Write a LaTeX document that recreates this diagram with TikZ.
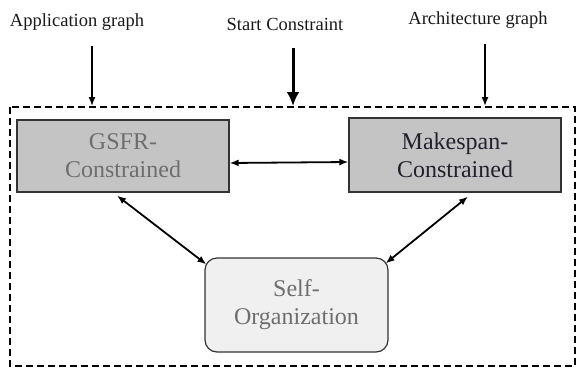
\documentclass[tikz,border=0pt]{standalone}
\usepackage{fontspec}
\setmainfont{Liberation Serif}
\usepackage{tikz}
\usetikzlibrary{arrows.meta}
\definecolor{boxgray}{HTML}{C4C4C4}
\definecolor{softgray}{HTML}{F0F0F0}
\definecolor{textgray}{HTML}{6E6E6E}
\definecolor{textdark}{HTML}{22222E}

\begin{document}
\begin{tikzpicture}[x=1pt, y=-1pt,
			lbl/.style = {font=\fontsize{18.5}{20}\selectfont, text=black!90},
			block/.style = {draw=black!80, line width=1.2pt, fill=boxgray, align=center,
				minimum width=212pt, minimum height=72pt, font=\fontsize{24}{28}\selectfont},
			soft/.style = {block, fill=softgray, rounded corners=12pt, text=textgray,
				minimum width=183pt, minimum height=94pt},
			feed/.style = {-{Latex[length=9pt,width=7pt]}, line width=1.4pt},
			link/.style = {{Latex[length=9pt,width=7pt]}-{Latex[length=9pt,width=7pt]}, line width=1.8pt}]
			%\draw[help lines] (0,0) grid (577,369);
			\useasboundingbox (0,0) rectangle (577,369);
			
			\node[lbl] (app) at (77,22) {Application graph};
			\node[lbl] (start) at (285,24) {Start Constraint};
			\node[lbl] (arch) at (478,20) {Architecture graph};
			
			\draw[dashed, line width=1.2pt, dash pattern=on 7pt off 4pt] (10,107) rectangle (575,366);
			\coordinate (inapp) at (92,106);
			\coordinate (instart) at (293,106);
			\coordinate (inarch) at (485,106);
			
			\node[block, text=textgray] (gsfr) at (123,156) {GSFR-\\Constrained};
			\node[block, text=textdark, minimum height=74pt] (make) at (455,155) {Makespan-\\Constrained};
			\node[soft] (self) at (296.5,305) {Self-\\Organization};
			
			\draw[feed, shorten <=12pt] (inapp |- app.south) -- (inapp);
			\draw[feed, shorten <=14pt, line width=3pt, -{Latex[length=14pt,width=13pt]}] (instart |- start.south) -- (instart);
			\draw[feed, shorten <=12pt] (inarch |- arch.south) -- (inarch);
			
			\draw[link] ([yshift=-7pt]gsfr.east) -- ([yshift=-7pt]make.west);
			\draw[link] ([shift={(-6pt,-3pt)}]gsfr.south) -- ([shift={(2pt,-7pt)}]self.north west);
			\draw[link] ([shift={(13pt,-4pt)}]make.south) -- ([shift={(-3pt,-6pt)}]self.north east);
		\end{tikzpicture}
\end{document}
